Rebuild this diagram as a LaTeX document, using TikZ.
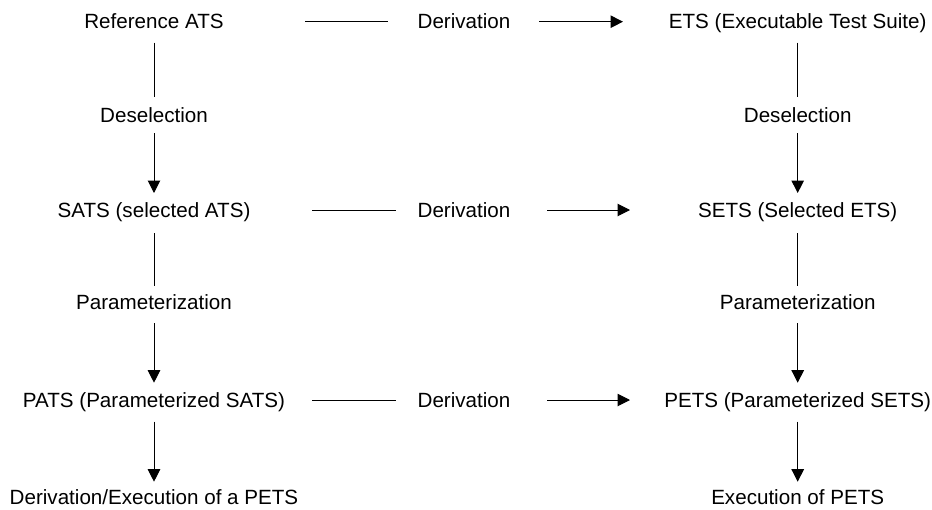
\documentclass[tikz,border=0pt]{standalone}
\usepackage{fontspec}
\setmainfont{Liberation Sans}
\usetikzlibrary{arrows.meta}
\begin{document}
\begin{tikzpicture}[x=1pt,y=-1pt,
  lbl/.style={inner sep=0pt,anchor=base,font=\fontsize{20.6}{24}\selectfont},
  conn/.style={line width=1pt,draw=black},
  arr/.style={conn,-{Triangle[length=12.5pt,width=12.5pt]}}]
\useasboundingbox (0,0) rectangle (932,509);
% left column
\node[lbl] (ra) at (154,28.7) {Reference ATS};
\node[lbl] (ds1) at (154,122) {Deselection};
\node[lbl] (sats) at (154,217.3) {SATS (selected ATS)};
\node[lbl] (pa1) at (154,309.5) {Parameterization};
\node[lbl] (pats) at (154,407.3) {PATS (Parameterized SATS)};
\node[lbl] (dex) at (154,504) {Derivation/Execution of a PETS};
% right column
\node[lbl] (ets) at (797.7,28.7) {ETS (Executable Test Suite)};
\node[lbl] (ds2) at (797.7,122) {Deselection};
\node[lbl] (sets) at (797.7,217.3) {SETS (Selected ETS)};
\node[lbl] (pa2) at (797.7,309.5) {Parameterization};
\node[lbl] (pets) at (797.7,407.3) {PETS (Parameterized SETS)};
\node[lbl] (ex) at (797.7,504) {Execution of PETS};
% derivation labels
\node[lbl] (d1) at (464,28.7) {Derivation};
\node[lbl] (d2) at (464,217.3) {Derivation};
\node[lbl] (d3) at (464,407.3) {Derivation};
% vertical connectors left
\draw[conn] ([yshift=-14pt]ra.base) -- ([yshift=25.3pt]ds1.base);
\draw[arr] ([yshift=-11pt]ds1.base) -- ([yshift=24.3pt]sats.base);
\draw[conn] ([yshift=-15.7pt]sats.base) -- ([yshift=23.5pt]pa1.base);
\draw[arr] ([yshift=-13.5pt]pa1.base) -- ([yshift=24.6pt]pats.base);
\draw[arr] ([yshift=-14.4pt]pats.base) -- ([yshift=22.3pt]dex.base);
% vertical connectors right
\draw[conn] ([yshift=-14pt]ets.base) -- ([yshift=25.3pt]ds2.base);
\draw[arr] ([yshift=-11pt]ds2.base) -- ([yshift=24.3pt]sets.base);
\draw[conn] ([yshift=-15.7pt]sets.base) -- ([yshift=23.5pt]pa2.base);
\draw[arr] ([yshift=-13.5pt]pa2.base) -- ([yshift=24.6pt]pets.base);
\draw[arr] ([yshift=-14.4pt]pets.base) -- ([yshift=22.3pt]ex.base);
% horizontal connectors
\draw[conn] ([xshift=-159pt,yshift=7pt]d1.base) -- ([xshift=-76pt,yshift=7pt]d1.base);
\draw[arr] ([xshift=75pt,yshift=7pt]d1.base) -- ([xshift=159pt,yshift=7pt]d1.base);
\draw[conn] ([xshift=-152pt,yshift=7.3pt]d2.base) -- ([xshift=-68pt,yshift=7.3pt]d2.base);
\draw[arr] ([xshift=83pt,yshift=7.3pt]d2.base) -- ([xshift=166pt,yshift=7.3pt]d2.base);
\draw[conn] ([xshift=-152pt,yshift=7.3pt]d3.base) -- ([xshift=-68pt,yshift=7.3pt]d3.base);
\draw[arr] ([xshift=83pt,yshift=7.3pt]d3.base) -- ([xshift=166pt,yshift=7.3pt]d3.base);
\end{tikzpicture}
\end{document}
